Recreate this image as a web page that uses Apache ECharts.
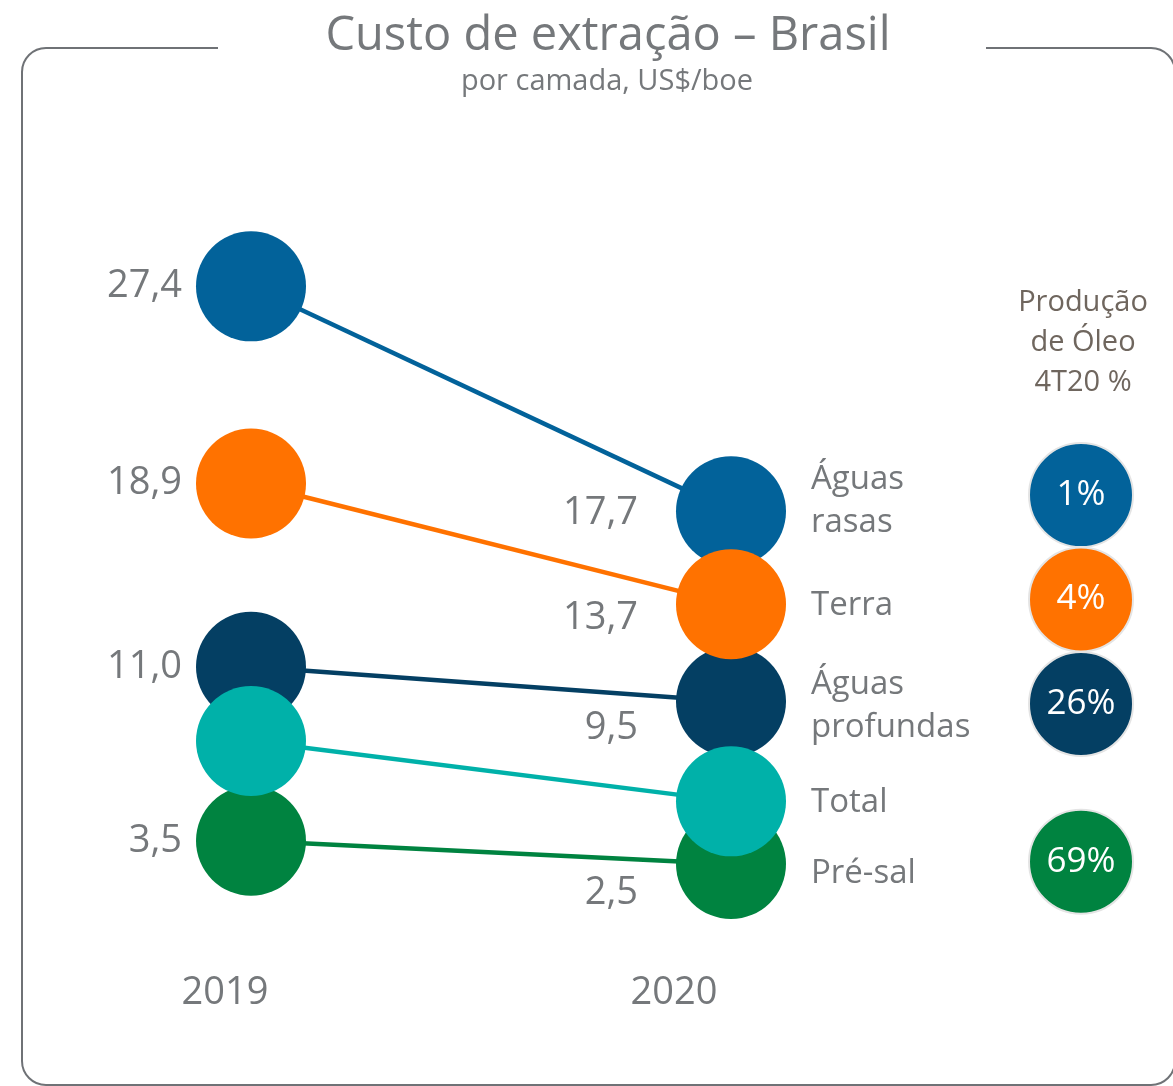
<!DOCTYPE html>
<html>
<head>
<meta charset="utf-8">
<script src="https://cdn.jsdelivr.net/npm/echarts@6/dist/echarts.min.js"></script>
<style>
  html, body { margin: 0; padding: 0; background: #fff; }
  #chart { width: 1173px; height: 1086px; }
</style>
</head>
<body>
<div id="chart"></div>
<script>
// dados
var years = ['2019', '2020']
var layers = ['Águas rasas', 'Terra', 'Águas profundas', 'Total', 'Pré-sal']
var cost2019 = [27.4, 18.9, 11.0, 7.8, 3.5]
var cost2020 = [17.7, 13.7, 9.5, 5.2, 2.5]
var showValue = [true, true, true, false, true]
var shareLayers = ['Águas rasas', 'Terra', 'Águas profundas', 'Pré-sal']
var oilShare = [1, 4, 26, 69]

// layout / estilos
var colors = ['#02629a', '#ff7200', '#043f63', '#00b1a9', '#008340']
var zLevel = [2, 3, 2, 3, 2]
var label2020Offset = [2, 14, 27, 0, 29]
var nameOffset = [-10, 1, 4, 1, 10]
var shareRowY = [18.4, 13.9, 9.4, 2.6]
var shareColors = ['#02629a', '#ff7200', '#043f63', '#008340']
var gray = '#75787b'
var font = 'Open Sans'

var chart = echarts.init(document.getElementById('chart'))

var lineSeries = layers.map(function (name, i) {
  return {
    name: name,
    type: 'line',
    xAxisIndex: 0,
    yAxisIndex: 0,
    z: zLevel[i],
    symbol: 'circle',
    symbolSize: 110,
    lineStyle: { color: colors[i], width: 4.5 },
    itemStyle: { color: colors[i] },
    emphasis: { disabled: true },
    data: [
      {
        value: cost2019[i],
        label: { show: showValue[i], position: 'left', distance: 14 }
      },
      {
        value: cost2020[i],
        label: { show: showValue[i], position: 'left', distance: 38, offset: [0, label2020Offset[i]] }
      }
    ],
    label: {
      color: gray,
      fontFamily: font,
      fontSize: 38,
      formatter: function (p) { return p.value.toFixed(1).replace('.', ',') }
    },
    endLabel: {
      show: true,
      distance: 80,
      offset: [0, nameOffset[i]],
      color: gray,
      fontFamily: font,
      fontSize: 33,
      lineHeight: 43,
      align: 'left',
      formatter: function (p) { return p.seriesName.replace(' ', '\n') }
    }
  }
})

var shareSeries = {
  type: 'scatter',
  xAxisIndex: 1,
  yAxisIndex: 1,
  symbolSize: 104,
  emphasis: { disabled: true },
  data: shareLayers.map(function (name, i) {
    return {
      name: name,
      value: [0, shareRowY[i], oilShare[i]],
      itemStyle: { color: shareColors[i], opacity: 1, borderColor: '#e4e4e4', borderWidth: 2 }
    }
  }),
  label: {
    show: true,
    position: 'inside',
    color: '#fff',
    fontFamily: font,
    fontSize: 35,
    formatter: function (p) { return p.value[2] + '%' }
  }
}

chart.setOption({
  animation: false,
  backgroundColor: '#fff',
  title: [
    {
      text: 'Custo de extração – Brasil',
      left: 603,
      top: 8,
      textAlign: 'center',
      textStyle: { color: gray, fontFamily: font, fontSize: 47, fontWeight: 'normal' }
    },
    {
      text: 'por camada, US$/boe',
      left: 602,
      top: 62,
      textAlign: 'center',
      textStyle: { color: gray, fontFamily: font, fontSize: 29, fontWeight: 'normal' }
    },
    {
      text: 'Produção\nde Óleo\n4T20 %',
      left: 1078,
      top: 278,
      textAlign: 'center',
      textStyle: { color: '#6f665e', fontFamily: font, fontSize: 29, lineHeight: 40, fontWeight: 'normal' }
    }
  ],
  graphic: [
    {
      type: 'rect',
      z: -10,
      shape: { x: 22, y: 48, width: 1153, height: 1037, r: 24 },
      style: { fill: 'none', stroke: '#6f7276', lineWidth: 2 }
    },
    {
      type: 'rect',
      z: -9,
      shape: { x: 218, y: 38, width: 768, height: 20 },
      style: { fill: '#fff' }
    }
  ],
  grid: [
    { left: 251, right: 442, top: 110, bottom: 164 },
    { left: 1081, width: 10, top: 110, bottom: 164 }
  ],
  xAxis: [
    {
      type: 'category',
      gridIndex: 0,
      boundaryGap: false,
      data: [
        { value: years[0], textStyle: { padding: [0, 52, 0, 0] } },
        { value: years[1], textStyle: { padding: [0, 114, 0, 0] } }
      ],
      axisLine: { show: false },
      axisTick: { show: false },
      splitLine: { show: false },
      axisLabel: { color: gray, fontFamily: font, fontSize: 38, margin: 52 }
    },
    { type: 'value', gridIndex: 1, min: 0, max: 1, show: false }
  ],
  yAxis: [
    { type: 'value', gridIndex: 0, min: 0, max: 35, show: false },
    { type: 'value', gridIndex: 1, min: 0, max: 35, show: false }
  ],
  series: lineSeries.concat([shareSeries])
})
</script>
</body>
</html>
